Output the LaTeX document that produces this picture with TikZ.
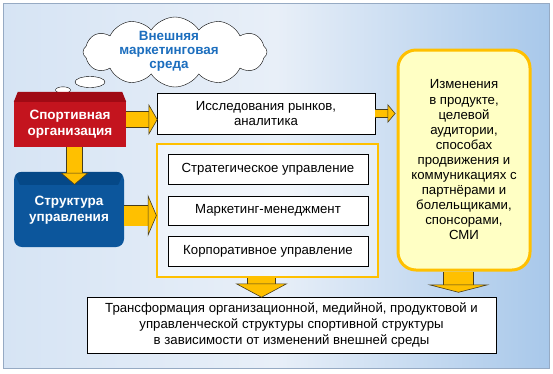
\documentclass[tikz,border=0pt]{standalone}
\usepackage{fontspec}
\setmainfont{Liberation Sans}
\usetikzlibrary{arrows.meta,positioning,shapes.symbols,calc}
\definecolor{bgleft}{RGB}{214,228,244}
\definecolor{bgmid}{RGB}{232,239,248}
\definecolor{bgright}{RGB}{168,200,234}
\definecolor{bgedge}{RGB}{150,170,195}
\definecolor{gold}{RGB}{255,192,0}
\definecolor{arrowedge}{RGB}{70,60,30}
\definecolor{orgred}{RGB}{196,20,30}
\definecolor{orgtop}{RGB}{160,10,20}
\definecolor{structblue}{RGB}{12,86,156}
\definecolor{structtop}{RGB}{5,72,135}
\definecolor{cloudblue}{RGB}{28,110,190}
\definecolor{paleyellow}{RGB}{255,255,196}

\begin{document}
\begin{tikzpicture}[x=1pt, y=-1pt,
  box/.style={draw=black, fill=white, line width=0.8pt, inner sep=0pt, align=center,
    font=\fontsize{13.2}{15.3}\selectfont},
  whitelabel/.style={text=white, align=center, font=\fontsize{13.5}{16}\selectfont\bfseries},
  blockarrow/.style n args={3}{draw=gold, line width=#1pt,
    -{Triangle[length=#3pt, width=#2pt, fill=gold, color=arrowedge, line width=0.6pt]},
    preaction={draw=arrowedge, line width=#1pt+1.2pt, -, shorten >=#3pt}}]
\useasboundingbox (0,0) rectangle (553,373);

% Background
\shade[left color=bgleft, right color=bgright, middle color=bgmid, draw=bgedge, line width=0.6pt]
  (3,3) rectangle (549,368);

% Cloud with thought bubbles
\node[cloud, cloud puffs=12, cloud puff arc=115, aspect=2.6, draw=black, fill=white,
  minimum width=184pt, minimum height=70pt, inner sep=0pt] (env) at (175,52) {};
\node[text=cloudblue, align=center, font=\fontsize{13.4}{14}\selectfont\bfseries] at ($(env.center)+(-6,-1)$)
  {Внешняя\\маркетинговая\\среда};
\draw[fill=white] (90,82) ellipse (15 and 5.5);
\draw[fill=white] (63,90) ellipse (7.5 and 3.2);
\draw[fill=white] (50.5,96.5) ellipse (4.5 and 2);

% Sports organisation
\node[fill=orgred, minimum width=112pt, minimum height=45pt, inner sep=0pt] (org) at (70,124.5) {};
\fill[orgtop] (org.north west) -- ++(4,-10) -- ($(org.north east)+(-4,-10)$) -- (org.north east) -- cycle;
\node[whitelabel] at (org.center) {Спортивная\\организация};

% Management structure
\node[fill=structblue, rounded corners=8pt, minimum width=110pt, minimum height=75pt, inner sep=0pt]
  (struct) at (69,209.5) {};
\begin{scope}
  \clip[rounded corners=8pt] (struct.south west) rectangle (struct.north east);
  \fill[structtop] (struct.north west) -- ($(struct.north west)+(6,13)$) -- ($(struct.north east)+(-6,13)$)
    -- (struct.north east) -- cycle;
\end{scope}
\node[whitelabel] at ($(struct.center)+(0,1)$) {Структура\\управления};

% Research box
\node[box, minimum width=218pt, minimum height=41pt] (res) at (266,113.5)
  {Исследования рынков,\\аналитика};

% Management functions
\node[draw=gold, line width=2.5pt, fill=white, fill opacity=0.45, minimum width=221pt,
  minimum height=133pt] (frame) at (267.5,210.5) {};
\node[box, minimum width=200pt, minimum height=30pt] (strat) at (268,169) {Стратегическое управление};
\node[box, minimum width=200pt, minimum height=29pt] (mkt) at (268,210.5) {Маркетинг-менеджмент};
\node[box, minimum width=200pt, minimum height=30pt] (corp) at (268,251) {Корпоративное управление};

% Changes
\node[draw=gold, line width=3pt, fill=paleyellow, rounded corners=18pt, minimum width=132pt,
  minimum height=220pt, inner sep=0pt, align=center, font=\fontsize{13.2}{15.1}\selectfont]
  (chg) at (464,160) {Изменения\\в продукте,\\целевой\\аудитории,\\способах\\продвижения и\\коммуникациях с\\партнёрами и\\болельщиками,\\спонсорами,\\СМИ};

% Transformation
\node[box, minimum width=409pt, minimum height=56pt, font=\fontsize{13.2}{15.6}\selectfont] (low) at (291.5,325)
  {Трансформация организационной, медийной, продуктовой и\\управленческой структуры спортивной структуры\\в зависимости от изменений внешней среды};

% Arrows
\draw[blockarrow={15}{31}{9}] ($(org.east)+(0,-5)$) -- ($(org.east -| res.west)+(1,-5)$);
\draw[blockarrow={7}{19}{8}] (res.east) -- ($(res.east -| chg.west)+(-1,0)$);
\draw[blockarrow={15}{28}{12}] ($(org.south)+(4.5,0)$) -- ($(org.south |- struct.north)+(4.5,13)$);
\draw[blockarrow={20}{42}{9}] ($(struct.east)+(0,6)$) -- ($(struct.east -| frame.west)+(1,6)$);
\draw[blockarrow={27}{52}{14}] ($(frame.south)+(-6,0)$) -- ($(frame.south |- low.north)+(-6,1)$);
\draw[blockarrow={29}{62}{8}] ($(chg.south)+(-5.5,0)$) -- ($(chg.south |- low.north)+(-5.5,-4)$);
\end{tikzpicture}
\end{document}
